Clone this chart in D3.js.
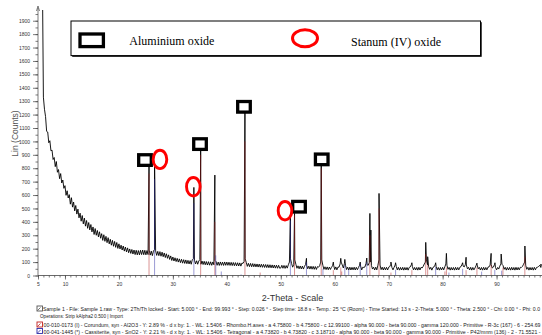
<!DOCTYPE html>
<html>
<head>
<meta charset="utf-8">
<script src="https://cdn.jsdelivr.net/npm/d3@7"></script>
<style>
  html, body { margin: 0; padding: 0; background: #fff; }
  svg { display: block; }
</style>
</head>
<body>
<svg id="chart" width="542" height="335"></svg>
<script>
// ---- XRD scan: counts from 5.0 deg 2-theta in 0.2 deg steps ----
const scanStart = 5.0;
const scanStep = 0.2;
const counts = [
  2600, 2550, 2480, 2400, 2300, 1330, 1240, 1185, 1075, 1070, 990, 1005, 930, 935, 865, 880, 812, 850, 770, 790, 722, 760, 690, 712, 650,
  670, 598, 632, 578, 603, 532, 580, 510, 548, 482, 522, 458, 495, 430, 465, 405, 447, 385, 428, 368, 410, 352, 395, 340, 380,
  325, 362, 306, 350, 300, 336, 288, 326, 278, 312, 262, 304, 255, 292, 245, 282, 236, 270, 226, 262, 218, 254, 210, 246, 202,
  236, 198, 226, 190, 220, 182, 212, 176, 206, 170, 198, 165, 194, 160, 190, 156, 188, 154, 186, 154, 188, 156, 190, 155, 188,
  154, 186, 156, 190, 152, 182, 148, 182, 194, 184, 150, 180, 148, 178, 144, 174, 140, 168, 134, 162, 128, 154, 120, 146, 112,
  138, 108, 132, 104, 128, 100, 124, 96, 121, 92, 118, 90, 116, 88, 113, 86, 111, 84, 118, 126, 114, 86, 110, 84, 108,
  118, 84, 108, 82, 106, 80, 104, 78, 103, 77, 102, 76, 101, 80, 112, 104, 76, 100, 75, 101, 76, 100, 75, 101, 76,
  100, 76, 99, 75, 98, 74, 97, 73, 96, 72, 95, 71, 94, 70, 93, 90, 104, 124, 98, 68, 91, 66, 90, 65, 89,
  65, 87, 64, 86, 63, 85, 62, 84, 61, 83, 60, 82, 59, 81, 58, 80, 57, 79, 56, 78, 55, 77, 54, 76, 54,
  56, 76, 54, 75, 53, 74, 55, 80, 100, 124, 90, 62, 82, 116, 84, 54, 72, 50, 71, 49, 70, 48, 69, 82, 76,
  50, 70, 48, 69, 47, 68, 46, 67, 45, 66, 62, 72, 100, 116, 76, 46, 65, 44, 64, 43, 63, 45, 62, 72, 76,
  44, 64, 42, 63, 62, 86, 100, 78, 56, 90, 76, 44, 62, 41, 62, 41, 61, 42, 62, 41, 61, 43, 60, 76, 70,
  42, 62, 60, 64, 90, 80, 76, 96, 100, 76, 48, 62, 41, 62, 42, 76, 116, 78, 44, 62, 41, 61, 42, 61, 41,
  62, 66, 84, 60, 42, 61, 78, 68, 42, 61, 40, 60, 41, 61, 40, 60, 41, 60, 40, 60, 64, 80, 66, 42, 60,
  41, 60, 40, 61, 41, 61, 56, 68, 86, 100, 116, 80, 68, 46, 61, 40, 60, 64, 78, 66, 42, 60, 40, 60, 41,
  61, 42, 64, 86, 76, 46, 61, 40, 60, 41, 60, 40, 61, 41, 60, 42, 62, 66, 84, 70, 64, 80, 78, 50, 61,
  41, 61, 40, 60, 42, 56, 74, 78, 50, 61, 41, 60, 40, 61, 41, 60, 42, 62, 64, 78, 80, 56, 62, 80, 60,
  42, 60, 48, 70, 86, 84, 74, 46, 61, 40, 60, 41, 60, 40, 61, 41, 60, 40, 61, 41, 60, 42, 61, 60, 68,
  84, 100, 76, 46, 61, 40, 60, 41, 60, 40, 61, 42, 60, 62, 68, 76, 60, 74, 50, 61, 42
];

// Peak apexes of the scan (2-theta, counts)
const peakAngles = [25.58, 26.61, 33.89, 35.15, 37.78, 43.36, 51.78, 52.55, 54.76, 57.50, 59.74, 61.12, 61.87,
  64.72, 65.94, 66.52, 66.70, 68.21, 70.42, 71.28, 74.30, 76.87, 77.23, 78.71, 80.70, 83.71, 84.35, 86.36,
  88.99, 89.70, 90.85, 95.25, 98.20];
const peakCounts = [812, 820, 657, 935, 749, 1238, 438, 463, 128, 848, 100, 128, 120,
  100, 130, 463, 339, 612, 100, 95, 95, 247, 140, 95, 165, 95, 136, 92,
  165, 95, 160, 220, 85];

// Reference patterns: 00-010-0173 Corundum (red), 00-041-1445 Cassiterite (blue)
const corundumAngles = [25.58, 35.15, 37.78, 43.36, 46.18, 52.55, 57.50, 59.74, 61.12, 61.30, 66.52, 68.21,
  70.42, 74.30, 76.87, 77.23, 80.42, 80.70, 84.35, 86.36, 88.99, 91.18, 95.24];
const corundumCounts = [760, 900, 400, 1000, 22, 450, 800, 40, 60, 30, 300, 500,
  22, 40, 160, 80, 30, 60, 40, 60, 80, 60, 140];
const cassiteriteAngles = [26.61, 33.89, 37.95, 38.97, 42.64, 51.78, 54.76, 57.82, 61.87, 62.59, 64.72, 65.94,
  71.28, 78.71, 81.17, 83.71, 87.23, 89.67, 90.94];
const cassiteriteCounts = [720, 540, 150, 30, 8, 410, 100, 50, 80, 43, 86, 100,
  43, 65, 22, 50, 29, 43, 36];

// Phase annotations placed on the pattern
const squareAngles = [24.83, 35.03, 43.18, 53.38, 57.59];
const squareCounts = [861, 980, 1258, 513, 866];
const circleAngles = [27.61, 33.79, 50.78];
const circleCounts = [866, 662, 483];

// Axis ticks
const xMajorTicks = [5, 10, 20, 30, 40, 50, 60, 70, 80, 90];
const xMinorTicks = d3.range(5, 101, 1);
const yMajorTicks = d3.range(0, 2000, 100);
const yMinorTicks = d3.range(0, 2000, 50);

// Legend texts
const legendLabels = ["Aluminium oxide", "Stanum (IV) oxide"];
const scanInfo = [
  "Sample 1 - File: Sample 1.raw - Type: 2Th/Th locked - Start: 5.000 \u00b0 - End: 99.993 \u00b0 - Step: 0.026 \u00b0 - Step time: 18.8 s - Temp.: 25 \u00b0C (Room) - Time Started: 13 s - 2-Theta: 5.000 \u00b0 - Theta: 2.500 \u00b0 - Chi: 0.00 \u00b0 - Phi: 0.0",
  "Operations: Strip kAlpha2 0.500 | Import",
  "00-010-0173 (I) - Corundum, syn - Al2O3 - Y: 2.89 % - d x by: 1. - WL: 1.5406 - Rhombo.H.axes - a 4.75800 - b 4.75800 - c 12.99100 - alpha 90.000 - beta 90.000 - gamma 120.000 - Primitive - R-3c (167) - 6 - 254.69",
  "00-041-1445 (*) - Cassiterite, syn - SnO2 - Y: 2.21 % - d x by: 1. - WL: 1.5406 - Tetragonal - a 4.73820 - b 4.73820 - c 3.18710 - alpha 90.000 - beta 90.000 - gamma 90.000 - Primitive - P42/mnm (136) - 2 - 71.5521 -"
];

// ---- drawing ----
const svg = d3.select("#chart");
const x = d3.scaleLinear().domain([5, 100]).range([38, 38 + 95 * 5.395]);
const y = d3.scaleLinear().domain([0, 1980]).range([275.5, 10]);

svg.append("defs").append("clipPath").attr("id", "plotClip")
  .append("rect").attr("x", 38).attr("y", 10).attr("width", 504).attr("height", 266);

// scan + peak apexes as one sorted series
const scan = counts.map((c, i) => [scanStart + i * scanStep, c])
  .concat(peakAngles.map((a, i) => [a, peakCounts[i]]))
  .sort((a, b) => a[0] - b[0]);

const plot = svg.append("g").attr("clip-path", "url(#plotClip)");

plot.append("path")
  .datum(scan)
  .attr("fill", "none")
  .attr("stroke", "#000")
  .attr("stroke-width", 0.9)
  .attr("stroke-linejoin", "round")
  .attr("d", d3.line().x(d => x(d[0])).y(d => y(d[1])));

// reference sticks, drawn translucent over the scan
function sticks(angles, values, colour) {
  plot.append("g").selectAll("line")
    .data(angles.map((a, i) => [a, values[i]]))
    .join("line")
    .attr("x1", d => x(d[0])).attr("x2", d => x(d[0]))
    .attr("y1", y(0)).attr("y2", d => y(d[1]))
    .attr("stroke", colour)
    .attr("stroke-opacity", 0.6)
    .attr("stroke-width", 0.8);
}
sticks(corundumAngles, corundumCounts, "#b01c1c");
sticks(cassiteriteAngles, cassiteriteCounts, "#2a2aa4");

// axes
const axisColour = "#444";
const xMinor = svg.append("g").attr("transform", `translate(0,${y(0)})`)
  .call(d3.axisBottom(x).tickValues(xMinorTicks).tickSize(2).tickFormat(""));
const xMajor = svg.append("g").attr("transform", `translate(0,${y(0)})`)
  .call(d3.axisBottom(x).tickValues(xMajorTicks).tickSize(4).tickPadding(3).tickFormat(d3.format("d")));
const yMinor = svg.append("g").attr("transform", `translate(${x(5)},0)`)
  .call(d3.axisLeft(y).tickValues(yMinorTicks).tickSize(2.5).tickFormat(""));
const yMajor = svg.append("g").attr("transform", `translate(${x(5)},0)`)
  .call(d3.axisLeft(y).tickValues(yMajorTicks).tickSize(5).tickPadding(3).tickFormat(d3.format("d")));

[xMinor, xMajor, yMinor, yMajor].forEach(g => {
  g.selectAll(".domain").remove();
  g.selectAll(".tick line").attr("stroke", axisColour).attr("stroke-width", 0.7);
  g.selectAll(".tick text").attr("fill", "#333")
    .style("font-family", "'Liberation Sans', Arial, sans-serif").style("font-size", "5px");
});
// axis lines
svg.append("line").attr("x1", x(5)).attr("x2", 542).attr("y1", y(0)).attr("y2", y(0))
  .attr("stroke", axisColour).attr("stroke-width", 0.8);
svg.append("line").attr("x1", x(5)).attr("x2", x(5)).attr("y1", y(0)).attr("y2", 8)
  .attr("stroke", axisColour).attr("stroke-width", 0.7);
svg.append("path")
  .attr("d", `M${x(5) - 1.5},11 L${x(5)},6 L${x(5) + 1.5},11`)
  .attr("fill", "none").attr("stroke", axisColour).attr("stroke-width", 0.7);

// axis titles
svg.append("text").text("2-Theta - Scale")
  .attr("x", 292.5).attr("y", 301).attr("text-anchor", "middle")
  .attr("fill", "#333")
  .style("font-family", "'Liberation Sans', Arial, sans-serif").style("font-size", "9px");
svg.append("text").text("Lin (Counts)")
  .attr("transform", "translate(17.5,133.5) rotate(-90)")
  .attr("text-anchor", "middle")
  .attr("fill", "#555")
  .style("font-family", "'Liberation Sans', Arial, sans-serif").style("font-size", "8.5px");

// phase annotations on the peaks
svg.append("g").selectAll("rect")
  .data(squareAngles.map((a, i) => [a, squareCounts[i]]))
  .join("rect")
  .attr("x", d => x(d[0]) - 6.3).attr("y", d => y(d[1]) - 5.3)
  .attr("width", 12.6).attr("height", 10.6)
  .attr("fill", "#fff").attr("stroke", "#000").attr("stroke-width", 3.3);
svg.append("g").selectAll("ellipse")
  .data(circleAngles.map((a, i) => [a, circleCounts[i]]))
  .join("ellipse")
  .attr("cx", d => x(d[0])).attr("cy", d => y(d[1]))
  .attr("rx", 6.8).attr("ry", 9.2)
  .attr("fill", "none").attr("stroke", "#ff0000").attr("stroke-width", 2.9);

// legend box
const lg = svg.append("g");
lg.append("rect").attr("x", 72.2).attr("y", 22.2).attr("width", 409.5).attr("height", 34.6).attr("fill", "#000");
lg.append("rect").attr("x", 71).attr("y", 21).attr("width", 409.5).attr("height", 34.6)
  .attr("fill", "#fff").attr("stroke", "#000").attr("stroke-width", 1);
lg.append("rect").attr("x", 80).attr("y", 34).attr("width", 23.4).attr("height", 12.6)
  .attr("fill", "none").attr("stroke", "#000").attr("stroke-width", 3.3);
lg.append("text").text(legendLabels[0]).attr("x", 129.3).attr("y", 45)
  .attr("fill", "#000")
  .style("font-family", "'Liberation Serif', 'Times New Roman', serif").style("font-size", "12px");
lg.append("ellipse").attr("cx", 305).attr("cy", 38.3).attr("rx", 12.5).attr("ry", 8.5)
  .attr("fill", "none").attr("stroke", "#ff0000").attr("stroke-width", 3);
lg.append("text").text(legendLabels[1]).attr("x", 351).attr("y", 45.7)
  .attr("fill", "#000")
  .style("font-family", "'Liberation Serif', 'Times New Roman', serif").style("font-size", "12px");

// scan / reference information lines
const info = svg.append("g").style("font-family", "'Liberation Sans', Arial, sans-serif").style("font-size", "4.6px");
const infoRows = [
  { x: 43, y: 311, len: 497, icon: "#555" },
  { x: 40, y: 318.3, len: 83, icon: null },
  { x: 43.5, y: 327, len: 497, icon: "#c02020" },
  { x: 43.5, y: 333.5, len: 497, icon: "#2a2aa8" }
];
infoRows.forEach((r, i) => {
  if (r.icon) {
    info.append("rect").attr("x", 37).attr("y", r.y - 5).attr("width", 5.5).attr("height", 5)
      .attr("fill", "#fff").attr("stroke", r.icon).attr("stroke-width", 0.9);
    info.append("line").attr("x1", 37.5).attr("y1", r.y - 0.5).attr("x2", 40.5).attr("y2", r.y - 3.5)
      .attr("stroke", r.icon).attr("stroke-width", 0.8);
  }
  info.append("text").text(scanInfo[i])
    .attr("x", r.x).attr("y", r.y)
    .attr("textLength", r.len).attr("lengthAdjust", "spacingAndGlyphs")
    .attr("fill", "#222");
});
</script>
</body>
</html>
